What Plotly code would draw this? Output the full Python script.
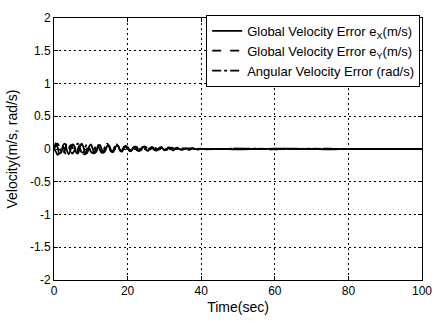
import numpy as np
import plotly.graph_objects as go

# time samples: 0..40 s every 0.5 s, then every 5 s to 100 s
time_dense = list(np.arange(0, 40.01, 0.5))
time_sparse = [45, 50, 55, 60, 65, 70, 75, 80, 85, 90, 95, 100]
time = time_dense + time_sparse

ex = [0.00, 0.09, 0.02, -0.07, -0.05, 0.06, 0.08, -0.02, -0.08, -0.01, 0.07, 0.05, -0.05, -0.07, 0.02, 0.08, 0.03, -0.06, -0.06, 0.03, 0.07,
      0.01, -0.06, -0.04, 0.05, 0.06, -0.01, -0.06, -0.02, 0.05, 0.05, -0.02, -0.05, 0.00, 0.05, 0.04, -0.03, -0.04, 0.02, 0.05, 0.02,
      -0.03, -0.03, 0.02, 0.04, 0.01, -0.03, -0.02, 0.03, 0.03, -0.01, -0.03, 0.00, 0.03, 0.02, -0.02, -0.02, 0.01, 0.03, 0.01, -0.02,
      -0.01, 0.02, 0.02, -0.01, -0.02, 0.01, 0.02, 0.00, -0.01, 0.00, 0.01, 0.01, -0.01, -0.01, 0.01, 0.01, 0.00, -0.01, 0.00, 0.00,
      0.00, -0.005, 0.00, 0.005, 0.005, 0.00, -0.005, 0.00, 0.00, 0.00, 0.00, 0.00]

ey = [0.00, -0.04, -0.09, -0.03, 0.05, 0.04, -0.06, -0.10, -0.02, 0.06, 0.03, -0.07, -0.09, 0.00, 0.06, 0.02, -0.07, -0.08, 0.01, 0.05, 0.01,
      -0.06, -0.06, 0.02, 0.05, 0.00, -0.06, -0.04, 0.03, 0.06, 0.01, -0.04, -0.03, 0.03, 0.05, 0.01, -0.03, -0.02, 0.03, 0.03, -0.01,
      -0.03, -0.01, 0.03, 0.02, -0.02, -0.02, 0.01, 0.03, 0.01, -0.02, -0.02, 0.01, 0.02, 0.00, -0.02, -0.01, 0.01, 0.02, 0.00, -0.01,
      -0.01, 0.01, 0.01, 0.00, -0.01, 0.00, 0.01, 0.01, -0.01, -0.01, 0.00, 0.01, 0.00, -0.01, 0.00, 0.01, 0.00, 0.00, 0.00, 0.00,
      0.00, 0.005, 0.00, -0.005, 0.00, 0.00, 0.005, 0.00, 0.00, 0.00, 0.00, 0.00]

omega = [0.00, 0.05, 0.08, 0.03, -0.04, -0.06, 0.00, 0.07, 0.06, -0.02, -0.07, -0.03, 0.05, 0.08, 0.02, -0.05, -0.05, 0.03, 0.07, 0.03, -0.04,
         -0.06, 0.00, 0.06, 0.05, -0.02, -0.05, -0.01, 0.05, 0.08, 0.03, -0.03, -0.03, 0.03, 0.07, 0.04, -0.02, -0.03, 0.02, 0.05, 0.03,
         -0.01, -0.02, 0.01, 0.04, 0.03, -0.01, -0.02, 0.01, 0.04, 0.03, 0.00, -0.01, 0.01, 0.03, 0.02, 0.00, -0.01, 0.01, 0.03, 0.02,
         0.00, -0.01, 0.01, 0.02, 0.01, 0.00, 0.00, 0.01, 0.02, 0.01, 0.00, 0.00, 0.01, 0.01, 0.01, 0.00, 0.00, 0.01, 0.01, 0.00,
         0.00, 0.005, 0.005, 0.00, 0.00, 0.005, 0.00, 0.00, 0.00, 0.00, 0.00, 0.00]

names = ["Global Velocity Error e<sub>X</sub>(m/s)",
         "Global Velocity Error e<sub>Y</sub>(m/s)",
         "Angular Velocity Error (rad/s)"]
x_ticks = [0, 20, 40, 60, 80, 100]
y_ticks = [-2, -1.5, -1, -0.5, 0, 0.5, 1, 1.5, 2]
y_tick_labels = ["-2", "-1.5", "-1", "-0.5", "0", "0.5", "1", "1.5", "2"]

fig = go.Figure()
styles = ["solid", "dash", "dashdot"]
for i, (vals, nm, ds) in enumerate(zip([ex, ey, omega], names, styles)):
    fig.add_trace(go.Scatter(x=time, y=vals, mode="lines", name=nm,
                             line=dict(color="black", width=1.8, dash=ds, shape="spline")))

font = "Arial, Liberation Sans, sans-serif"
fig.update_layout(
    width=443, height=323,
    margin=dict(l=53, r=11, t=11, b=36),
    paper_bgcolor="white", plot_bgcolor="white",
    font=dict(family=font, size=12, color="black"),
    showlegend=True,
    legend=dict(x=0.995, y=1.012, xanchor="right", yanchor="top",
                bgcolor="white", bordercolor="black", borderwidth=1,
                font=dict(size=13, family=font), tracegroupgap=0,
                itemwidth=30),
)
axis_common = dict(showline=True, mirror="ticks", linecolor="black", linewidth=1,
                   ticks="inside", ticklen=4, tickcolor="black",
                   showgrid=True, gridcolor="black", gridwidth=1, griddash="2px,3px",
                   zeroline=False)
fig.update_xaxes(range=[0, 100], tickvals=x_ticks, title=dict(text="Time(sec)", standoff=4),
                 **axis_common)
fig.update_yaxes(range=[-2, 2], tickvals=y_ticks, ticktext=y_tick_labels,
                 title=dict(text="Velocity(m/s, rad/s)", standoff=9), **axis_common)

fig.write_html("out.html")
